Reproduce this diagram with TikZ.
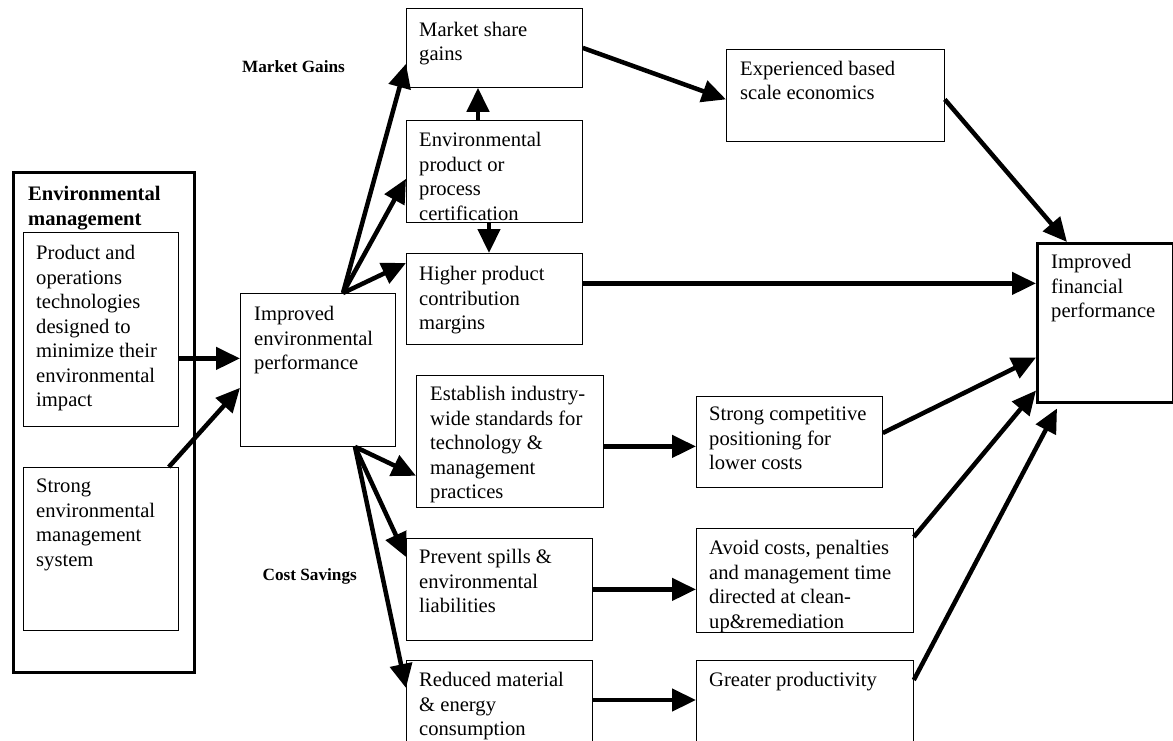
\documentclass[tikz,border=0pt]{standalone}
\usepackage{fontspec}
\setmainfont{Liberation Serif}
\usetikzlibrary{arrows.meta}

\tikzset{
  box/.style={draw, anchor=north west, inner sep=0pt, line width=0.8pt},
  txt/.style={anchor=north west, inner sep=0pt, align=left,
    font=\fontsize{20.6}{24.5}\selectfont},
  lbl/.style={anchor=base east, inner sep=0pt,
    font=\fontsize{17.2}{20}\selectfont\bfseries},
  arr/.style={line width=4.5pt, -{Triangle[length=24pt,width=22pt]}},
}

\begin{document}
\begin{tikzpicture}[x=1pt,y=-1pt]
  \useasboundingbox (0,0) rectangle (1173,740);

  % left column
  \node[box, line width=3pt, minimum width=181pt, minimum height=500pt] (emb) at (12,171) {};
  \node[txt, font=\fontsize{20.6}{24.5}\selectfont\bfseries] (emb-t) at (28,186) {Environmental\\management};
  \node[box, minimum width=155pt, minimum height=194pt] (pot) at (23,232) {};
  \node[txt] (pot-t) at (36,245) {Product and\\operations\\technologies\\designed to\\minimize their\\environmental\\impact};
  \node[box, minimum width=155pt, minimum height=163pt] (sems) at (23,467) {};
  \node[txt] (sems-t) at (36,479) {Strong\\environmental\\management\\system};

  \node[box, minimum width=155pt, minimum height=153pt] (iep) at (240,293) {};
  \node[txt] (iep-t) at (254,306) {Improved\\environmental\\performance};

  % market gains
  \node[lbl] (mg) at (345,72) {Market Gains};
  \node[box, minimum width=176pt, minimum height=79pt] (msg) at (406,8) {};
  \node[txt] (msg-t) at (419,22) {Market share\\gains};
  \node[box, minimum width=176pt, minimum height=102pt] (cert) at (406,120) {};
  \node[txt] (cert-t) at (419,132) {Environmental\\product or\\process\\certification};
  \node[box, minimum width=176pt, minimum height=91pt] (hpcm) at (406,253) {};
  \node[txt] (hpcm-t) at (419,266) {Higher product\\contribution\\margins};
  \node[box, minimum width=218pt, minimum height=92pt] (ebse) at (726,49) {};
  \node[txt] (ebse-t) at (740,61) {Experienced based\\scale economics};

  \node[box, line width=2.5pt, minimum width=136pt, minimum height=159pt] (ifp) at (1036,242) {};
  \node[txt] (ifp-t) at (1051,254) {Improved\\financial\\performance};

  % cost savings
  \node[lbl] (cs) at (357,580) {Cost Savings};
  \node[box, minimum width=187pt, minimum height=132pt] (eiws) at (416,375) {};
  \node[txt] (eiws-t) at (430,386) {Establish industry-\\wide standards for\\technology \&\\management\\practices};
  \node[box, minimum width=186pt, minimum height=91pt] (scp) at (696,396) {};
  \node[txt] (scp-t) at (709,407) {Strong competitive\\positioning for\\lower costs};
  \node[box, minimum width=186pt, minimum height=102pt] (psel) at (406,538) {};
  \node[txt] (psel-t) at (419,549) {Prevent spills \&\\environmental\\liabilities};
  \node[box, minimum width=217pt, minimum height=104pt] (acpm) at (696,528) {};
  \node[txt] (acpm-t) at (709,540) {Avoid costs, penalties\\and management time\\directed at clean-\\up\&remediation};
  \node[box, minimum width=186pt, minimum height=100pt] (rmec) at (406,660) {};
  \node[txt] (rmec-t) at (419,672) {Reduced material\\\& energy\\consumption};
  \node[box, minimum width=217pt, minimum height=100pt] (gp) at (696,660) {};
  \node[txt] (gp-t) at (709,672) {Greater productivity};

  \coordinate (up) at ([xshift=103pt]iep.north west);
  \coordinate (down) at ([xshift=115pt]iep.south west);

  % connectors
  \draw[arr] ([yshift=-29pt]pot.east) -- ([yshift=-29pt]pot.east -| iep.west);
  \draw[arr] ([xshift=-10pt]sems.north east) -- ([yshift=59pt]iep.south west);
  \draw[arr] (up) -- ([yshift=24pt]msg.south west);
  \draw[arr] (up) -- ([yshift=44pt]cert.south west);
  \draw[arr] (up) -- ([yshift=-10pt]hpcm.north west);
  \draw[arr] ([xshift=72pt]cert.north west) -- ([xshift=72pt]msg.south west);
  \draw[arr] ([xshift=83pt]cert.south west) -- ([xshift=83pt]hpcm.north west);
  \draw[arr] (msg.east) -- ([yshift=-4pt]ebse.west);
  \draw[arr] ([yshift=-4pt]ebse.east) -- ([xshift=31pt]ifp.north west);
  \draw[arr] ([yshift=15.5pt]hpcm.east) -- ([yshift=15.5pt]hpcm.east -| ifp.west);
  \draw[arr] (down) -- ([yshift=32pt]eiws.south west);
  \draw[arr] (down) -- ([yshift=-19pt]psel.north west);
  \draw[arr] (down) -- ([yshift=-28pt]rmec.north west);
  \draw[arr] ([yshift=-5pt]eiws.east) -- ([yshift=-5pt]eiws.east -| scp.west);
  \draw[arr] (psel.east) -- (psel.east -| acpm.west);
  \draw[arr] ([yshift=-40pt]rmec.north east) -- ([yshift=-40pt]rmec.north east -| gp.west);
  \draw[arr] ([yshift=-37pt]scp.north east) -- ([yshift=46pt]ifp.south west);
  \draw[arr] ([yshift=-9pt]acpm.north east) -- ([yshift=13pt]ifp.south west);
  \draw[arr] ([yshift=-20pt]gp.north east) -- ([xshift=21pt,yshift=-5pt]ifp.south west);
\end{tikzpicture}
\end{document}
